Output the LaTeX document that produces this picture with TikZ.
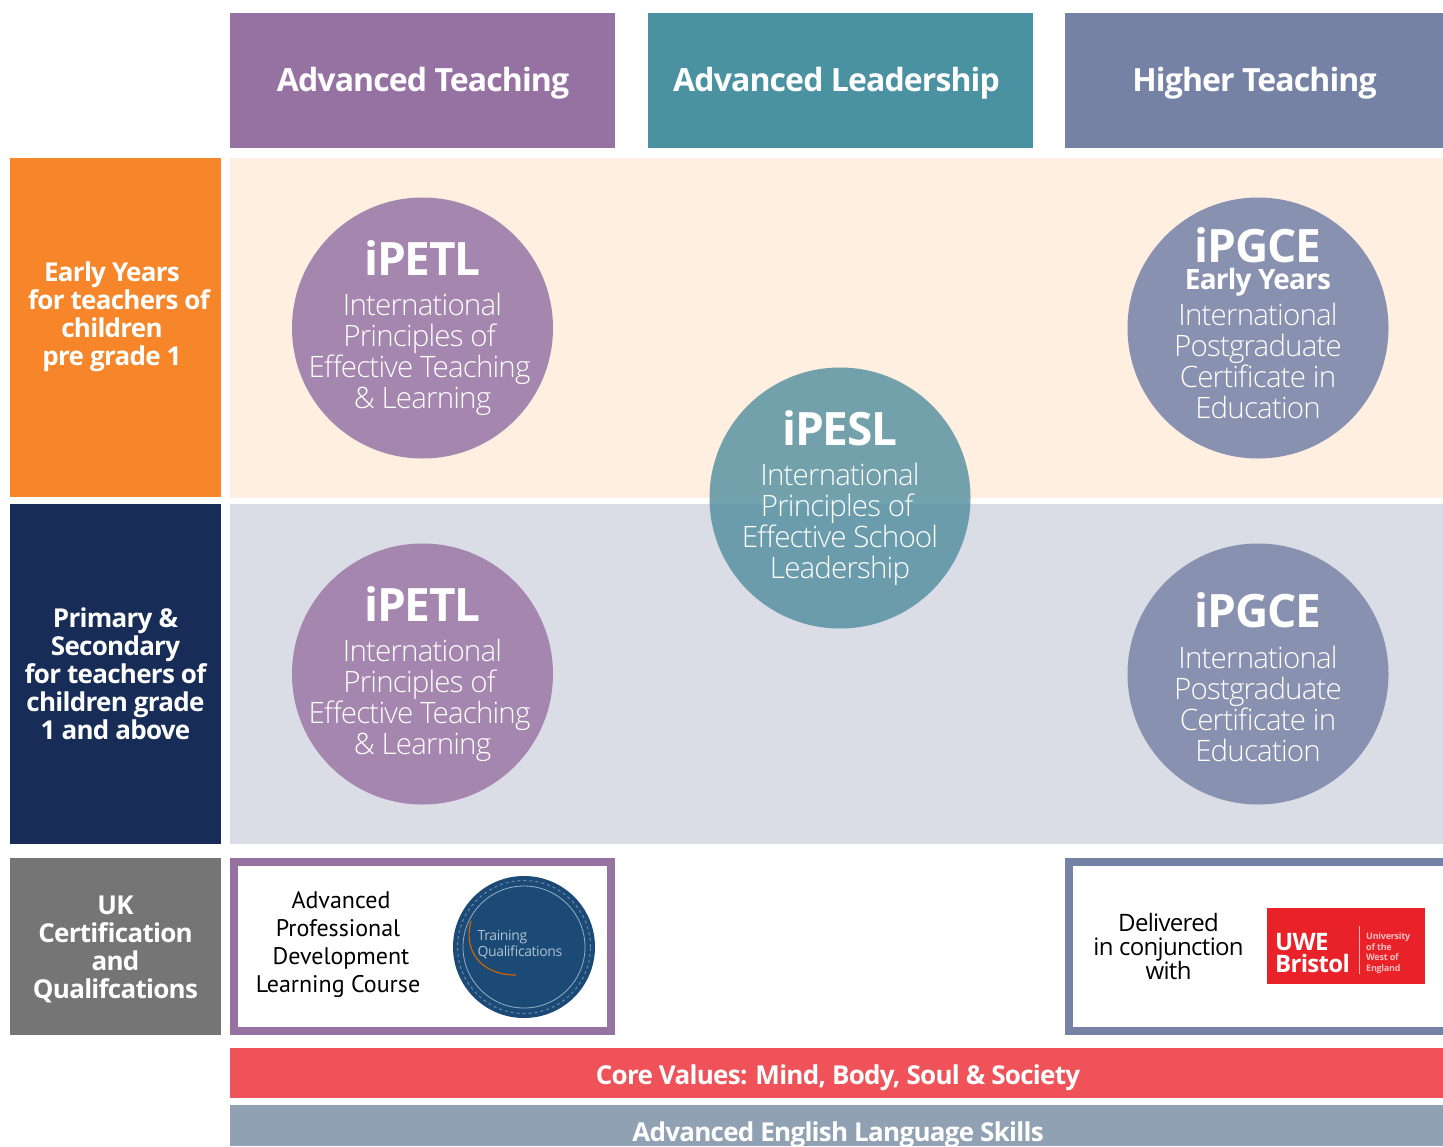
\documentclass[tikz,border=0pt]{standalone}
\usepackage{fontspec}
\setmainfont[LetterSpace=-2.8]{Open Sans}
\newfontfamily\lightf[LetterSpace=-2.8]{Open Sans Light}
\newfontfamily\ptf{PT Sans}
\definecolor{cpurple}{HTML}{9672A2}
\definecolor{cteal}{HTML}{4A92A2}
\definecolor{ctealc}{HTML}{4F8D9E}
\definecolor{cslate}{HTML}{7582A5}
\definecolor{cpurplec}{HTML}{A586AE}
\definecolor{cslatec}{HTML}{8891AF}
\definecolor{corange}{HTML}{F68629}
\definecolor{cnavy}{HTML}{172D58}
\definecolor{cgrey}{HTML}{757575}
\definecolor{ccream}{HTML}{FEEFE0}
\definecolor{clilac}{HTML}{DADCE6}
\definecolor{cred}{HTML}{EF5359}
\definecolor{cbar}{HTML}{8FA1B2}
\definecolor{cbadge}{HTML}{1B4A77}
\definecolor{cuwe}{HTML}{E92229}
\tikzset{
  box/.style={draw=none,inner sep=0pt,text=white,align=center},
  head/.style={box,minimum width=385pt,minimum height=135pt},
  headtext/.style={box,font=\bfseries\fontsize{32}{36}\selectfont},
  side/.style={box,minimum width=211pt},
  sidetext/.style={box,font=\bfseries\fontsize{26}{28}\selectfont},
  disc/.style={circle,inner sep=0pt,minimum size=261pt},
  titletext/.style={anchor=base,text=white,inner sep=0pt,font=\bfseries\fontsize{46}{46}\selectfont},
  subtext/.style={anchor=center,text=white,inner sep=0pt,align=center,font=\lightf\fontsize{29.5}{31}\selectfont},
  certbox/.style={draw,line width=8pt,fill=white,inner sep=0pt,minimum height=169pt},
  certtext/.style={text=black,inner sep=0pt,align=center,anchor=center},
}
\begin{document}
\begin{tikzpicture}[x=1pt,y=-1pt]
\useasboundingbox (0,0) rectangle (1443,1146);
\fill[white] (0,0) rectangle (1443,1146);
% headers
\node[head,fill=cpurple] (h1) at (422.5,80.5) {};
\node[head,fill=cteal] (h2) at (840.5,80.5) {};
\node[head,fill=cslate,minimum width=378pt] (h3) at (1254,80.5) {};
\node[headtext] (h1t) at (423,83.5) {Advanced Teaching};
\node[headtext] (h2t) at (836.5,83.5) {Advanced Leadership};
\node[headtext] (h3t) at (1254.5,83.5) {Higher Teaching};
% panels
\node[box,fill=ccream,minimum width=1213pt,minimum height=340pt] (p1) at (836.5,328) {};
\node[box,fill=clilac,minimum width=1213pt,minimum height=340pt] (p2) at (836.5,674) {};
% side labels
\node[side,fill=corange,minimum height=339pt] (s1) at (115.5,327.5) {};
\node[sidetext] (s1t) at (119,317) {Early Years\hspace*{14pt}\null\\for teachers of\\children\hspace*{14pt}\null\\pre grade 1\hspace*{14pt}\null};
\node[side,fill=cnavy,minimum height=340pt] (s2) at (115.5,674) {};
\node[sidetext] (s2t) at (115.5,674) {Primary \&\\Secondary\\for teachers of\\children grade\\1 and above};
\node[side,fill=cgrey,minimum height=177pt] (s3) at (115.5,946.5) {};
\node[sidetext] (s3t) at (115.5,949.5) {UK\\Certification\\and\\Qualifcations};
% discs
\node[disc,fill=cpurplec] (c1) at (422.5,328) {};
\node[titletext] (c1t) at (422.5,275.5) {iPETL};
\node[subtext] (c1s) at (419.5,354) {\hspace*{6pt}International\\Principles of\\Effective Teaching\\\hspace*{6pt}\& Learning};
\node[disc,fill=cpurplec] (c2) at (422.5,674) {};
\node[titletext] (c2t) at (422.5,621.5) {iPETL};
\node[subtext] (c2s) at (419.5,700) {\hspace*{6pt}International\\Principles of\\Effective Teaching\\\hspace*{6pt}\& Learning};
\node[disc,fill=ctealc,fill opacity=.8,text opacity=1] (c3) at (840,498) {};
\node[titletext] (c3t) at (840,445.5) {iPESL};
\node[subtext] (c3s) at (840,524.5) {International\\Principles of\hspace*{6pt}\null\\Effective School\\Leadership};
\node[disc,fill=cslatec] (c4) at (1258,328) {};
\node[titletext] (c4t) at (1258,262) {iPGCE};
\node[anchor=base,text=white,inner sep=0pt,font=\bfseries\fontsize{28}{28}\selectfont] (c4y) at (1258,289) {Early Years};
\node[subtext] (c4s) at (1258,361) {International\\Postgraduate\\Certificate in\\Education};
\node[disc,fill=cslatec] (c5) at (1258,674) {};
\node[titletext] (c5t) at (1258,627.5) {iPGCE};
\node[subtext] (c5s) at (1258,703.5) {International\\Postgraduate\\Certificate in\\Education};
% certification boxes
\node[certbox,draw=cpurple,minimum width=377pt] (b1) at (422.5,946.5) {};
\node[certtext,font=\ptf\fontsize{24}{28}\selectfont] (b1t) at (338,944) {\hspace*{6pt}Advanced\\Professional\\\hspace*{6pt}Development\\Learning Course};
\node[circle,fill=cbadge,minimum size=142pt,inner sep=0pt] (badge) at (524,947) {};
\node[circle,draw=white!55!cbadge,line width=.8pt,minimum size=122pt,inner sep=0pt] (ring) at (524,947) {};
\node[circle,draw=white!35!cbadge,dashed,line width=1pt,minimum size=133pt,inner sep=0pt] (ring2) at (524,947) {};
\node[text=white!65!cbadge,inner sep=0pt,align=left,font=\fontsize{14}{16}\selectfont] (badget) at (520,945) {Training\\Qualifications};
\draw[orange!80!black,line width=1.2pt] (471,921) .. controls (463,950) and (480,975) .. (516,975);
\node[certbox,draw=cslate,minimum width=385pt] (b2) at (1261.5,946.5) {};
\node[certtext,font=\fontsize{24}{24}\selectfont] (b2t) at (1168.5,946) {Delivered\\in conjunction\\with};
\node[box,fill=cuwe,minimum width=158pt,minimum height=76pt] (uwe) at (1345.5,946) {};
\node[text=white,inner sep=0pt,align=left,font=\bfseries\fontsize{24}{22}\selectfont] (uwet) at (1312.5,953) {UWE\\Bristol};
\draw[white!70!cuwe,line width=.6pt] (1359,926) coordinate (sepa) -- (1359,974) coordinate (sepb);
\node[text=white!70!cuwe,inner sep=0pt,align=left,anchor=west,font=\bfseries\fontsize{9}{10.5}\selectfont] (uwes) at (1366,953) {University\\of the\\West of\\England};
% bars
\node[box,fill=cred,minimum width=1213pt,minimum height=50pt] (r1) at (836.5,1073) {};
\node[sidetext] (r1t) at (838,1078) {Core Values: Mind, Body, Soul \& Society};
\node[box,fill=cbar,minimum width=1213pt,minimum height=41pt] (r2) at (836.5,1125.5) {};
\node[sidetext] (r2t) at (838,1135) {Advanced English Language Skills};
\end{tikzpicture}
\end{document}
